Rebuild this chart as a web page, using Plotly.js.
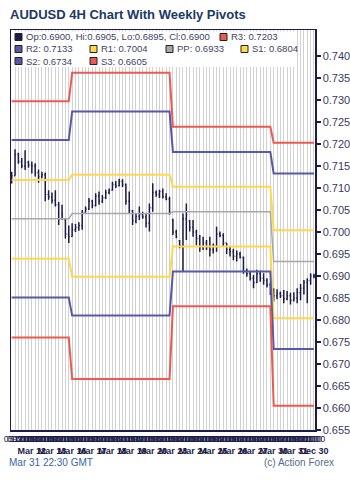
<!DOCTYPE html>
<html><head><meta charset="utf-8">
<script src="https://cdn.plot.ly/plotly-3.0.1.min.js"></script>
<style>html,body{margin:0;padding:0;background:#fff}#chart{width:350px;height:481px}</style>
</head><body><div id="chart"></div>
<script>
// ---- data ----
const opens  = [.7118,.7128,.7176,.7160,.7150,.7158,.7152,.7150,.7135,.7125,.7130,.7085,.7080,.7072,.7062,.7030,.7028,.6995,
 .6990,.7005,.7010,.7015,.7045,.7052,.7070,.7060,.7082,.7070,.7078,.7090,.7095,.7108,.7105,.7115,.7108,.7070,.7048,.7025,.7035,.7040,.7034,.7020,.7055,.7090,.7085,.7092,.7080,.7075,
 .7028,.7000,.6980,.6968,.7030,.7025,.7010,.7000,.6985,.6965,.6975,.6965,.6960,.6968,.6995,.6992,.6975,.6960,.6955,.6945,.6950,.6942,.6912,.6905,.6895,.6885,.6905,.6895,.6890,.6880,
 .6865,.6855,.6860,.6855,.6848,.6855,.6845,.6850,.6862,.6872,.6885,.6890,.6900];
const highs  = [.7137,.7188,.7180,.7168,.7186,.7162,.7160,.7156,.7142,.7137,.7135,.7095,.7090,.7095,.7068,.7062,.7030,.7015,
 .7020,.7018,.7022,.7050,.7058,.7077,.7073,.7088,.7092,.7084,.7096,.7099,.7114,.7116,.7121,.7120,.7110,.7092,.7050,.7042,.7058,.7046,.7042,.7065,.7111,.7094,.7096,.7099,.7088,.7080,
 .7030,.7005,.6982,.7042,.7065,.7027,.7027,.7005,.6993,.6989,.6982,.6989,.6974,.7012,.7001,.6997,.6975,.6968,.6962,.6958,.6955,.6944,.6917,.6912,.6902,.6914,.6912,.6906,.6895,.6885,
 .6872,.6870,.6865,.6868,.6866,.6862,.6863,.6872,.6882,.6891,.6895,.6906,.6905];
const lows   = [.7110,.7128,.7155,.7145,.7141,.7146,.7133,.7126,.7112,.7122,.7070,.7073,.7065,.7058,.7016,.7028,.6985,.6975,
 .6989,.7000,.7003,.7005,.7044,.7050,.7054,.7058,.7062,.7066,.7075,.7086,.7094,.7100,.7104,.7102,.7062,.7042,.7016,.7020,.7027,.7030,.7010,.7001,.7046,.7080,.7077,.7076,.7072,.7039,
 .6993,.6986,.6963,.6910,.6982,.7001,.6989,.6970,.6955,.6959,.6959,.6944,.6951,.6955,.6988,.6968,.6950,.6944,.6936,.6933,.6940,.6905,.6898,.6890,.6872,.6884,.6887,.6880,.6874,.6857,
 .6842,.6847,.6850,.6838,.6845,.6835,.6842,.6838,.6845,.6858,.6838,.6880,.6895];
const closes = [.7128,.7176,.7160,.7150,.7158,.7152,.7150,.7135,.7125,.7130,.7085,.7080,.7072,.7062,.7030,.7040,.6995,.6990,
 .7005,.7010,.7015,.7045,.7052,.7070,.7060,.7082,.7070,.7078,.7090,.7095,.7108,.7105,.7115,.7108,.7070,.7048,.7025,.7035,.7040,.7034,.7020,.7055,.7090,.7085,.7092,.7080,.7075,.7045,
 .7000,.6990,.6968,.7030,.7040,.7010,.7000,.6985,.6965,.6975,.6965,.6960,.6968,.6995,.6992,.6975,.6960,.6955,.6945,.6950,.6942,.6912,.6905,.6895,.6885,.6905,.6895,.6890,.6880,.6865,
 .6855,.6860,.6855,.6848,.6855,.6845,.6850,.6862,.6872,.6885,.6890,.6900,.6900];
const weekBars = [18, 30, 30, 13];
const pivR3 = [0.7297, 0.7362, 0.7239, 0.7203];
const pivR2 = [0.7209, 0.7274, 0.7182, 0.7133];
const pivR1 = [0.7118, 0.7130, 0.7103, 0.7004];
const pivPP = [0.7030, 0.7042, 0.7046, 0.6933];
const pivS1 = [0.6939, 0.6898, 0.6967, 0.6804];
const pivS2 = [0.6851, 0.6810, 0.6910, 0.6734];
const pivS3 = [0.6760, 0.6666, 0.6831, 0.6605];
const barHours = ["01:00","05:00","09:00","13:00","17:00","21:00"];
const dayLabels = ["Mar 11","Mar 12","Mar 13","Mar 16","Mar 17","Mar 18","Mar 19","Mar 20","Mar 23","Mar 24","Mar 25","Mar 26","Mar 27","Mar 30","Mar 31","Dec 30"];
const yTicks = [0.655,0.660,0.665,0.670,0.675,0.680,0.685,0.690,0.695,0.700,0.705,0.710,0.715,0.720,0.725,0.730,0.735,0.740];
const footLeft = "Mar 31 22:30 GMT";
const footRight = "(c) Action Forex";
const chartTitle = "AUDUSD 4H Chart With Weekly Pivots";

// ---- build ----
const n = opens.length;
const xs = opens.map((_, i) => i);
function expand(w) { const out = []; weekBars.forEach((c, k) => { for (let j = 0; j < c; j++) out.push(w[k]); }); return out; }
const tickText = xs.map(i => barHours[i % 6] + (i % 6 === 0 ? '<br><b>' + dayLabels[i / 6] + '</b>' : ''));

const RED = '#ec5a50', BLUE = '#5858aa', YEL = '#ffd84c', GRAY = '#a8a8a8', NAVY = '#1c1c48';
const piv = [
  ['R3', pivR3, RED, 2], ['R2', pivR2, BLUE, 2], ['R1', pivR1, YEL, 2], ['PP', pivPP, GRAY, 1.5],
  ['S1', pivS1, YEL, 2], ['S2', pivS2, BLUE, 2], ['S3', pivS3, RED, 2]
];
const traces = piv.map(p => ({
  type: 'scatter', mode: 'lines', x: xs, y: expand(p[1]), name: p[0],
  line: { color: p[2], width: p[3] }, hoverinfo: 'skip', showlegend: false
}));
traces.push({
  type: 'ohlc', x: xs, open: opens, high: highs, low: lows, close: closes,
  increasing: { line: { color: NAVY, width: 1.5 } }, decreasing: { line: { color: NAVY, width: 1.5 } },
  tickwidth: 0.3, hoverinfo: 'skip', showlegend: false
});

const L = 11, T = 30, W = 304, H = 400;
const px = v => (v - L) / W, py = v => (T + H - v) / H;
const last = n - 1;
const f4 = v => v.toFixed(4);
const legendItems = [
  [15, 37, NAVY, 'Op:' + f4(opens[last]) + ', Hi:' + f4(highs[last]) + ', Lo:' + f4(lows[last]) + ', Cl:' + f4(closes[last])],
  [220, 37, RED, 'R3: ' + f4(pivR3[3])],
  [15, 49, BLUE, 'R2: ' + f4(pivR2[3])],
  [90, 49, YEL, 'R1: ' + f4(pivR1[3])],
  [166, 49, GRAY, 'PP: ' + f4(pivPP[3])],
  [241, 49, YEL, 'S1: ' + f4(pivS1[3])],
  [15, 61, BLUE, 'S2: ' + f4(pivS2[3])],
  [90, 61, RED, 'S3: ' + f4(pivS3[3])]
];
const shapes = [{ type: 'rect', xref: 'paper', yref: 'paper', x0: px(12), x1: px(297), y0: py(67), y1: py(31.5),
  fillcolor: '#ffffff', line: { width: 0 }, layer: 'above' }];
const annotations = [];
legendItems.forEach(it => {
  shapes.push({ type: 'rect', xref: 'paper', yref: 'paper', xsizemode: 'pixel', ysizemode: 'pixel',
    xanchor: px(it[0]), yanchor: py(it[1]), x0: 0, x1: 7, y0: -3.5, y1: 3.5,
    fillcolor: it[2], line: { color: '#222222', width: 1 }, layer: 'above' });
  annotations.push({ xref: 'paper', yref: 'paper', x: px(it[0] + 9), y: py(it[1]), xanchor: 'left', yanchor: 'middle',
    text: it[3], showarrow: false, font: { family: 'Liberation Sans, Arial, sans-serif', size: 9.5, color: '#3c4464' } });
});
annotations.push({ xref: 'paper', yref: 'paper', x: px(7), y: py(462), xanchor: 'left', yanchor: 'middle',
  text: footLeft, showarrow: false, font: { family: 'Liberation Sans, Arial, sans-serif', size: 10, color: '#3a64a4' } });
annotations.push({ xref: 'paper', yref: 'paper', x: px(336), y: py(462), xanchor: 'right', yanchor: 'middle',
  text: footRight, showarrow: false, font: { family: 'Liberation Sans, Arial, sans-serif', size: 10, color: '#5a6a8a' } });

const layout = {
  width: 350, height: 481,
  margin: { l: L, r: 350 - L - W, t: T, b: 481 - T - H },
  paper_bgcolor: '#ffffff', plot_bgcolor: '#ffffff',
  title: { text: '<b>' + chartTitle + '</b>', x: 10 / 350, xanchor: 'left', xref: 'container',
    y: 1 - 14 / 481, yanchor: 'middle', yref: 'container',
    font: { family: 'Liberation Sans, Arial, sans-serif', size: 13, color: '#203864' } },
  showlegend: false,
  xaxis: {
    range: [-0.2, 90.3], tickmode: 'array', tickvals: xs, ticktext: tickText, tickangle: 0,
    ticks: '', showgrid: true, gridcolor: '#d2d2d2', gridwidth: 1, zeroline: false,
    showline: true, mirror: true, linecolor: NAVY, linewidth: 1.5,
    tickfont: { family: 'Liberation Sans, Arial, sans-serif', size: 9, color: NAVY },
    rangeslider: { visible: false }, fixedrange: true
  },
  yaxis: {
    side: 'right', range: [0.655, 0.7459], tickmode: 'array', tickvals: yTicks,
    ticktext: yTicks.map(v => v.toFixed(3)), ticks: 'outside', ticklen: 4, tickcolor: NAVY, tickwidth: 1.5,
    showgrid: false, zeroline: false, showline: true, mirror: true, linecolor: NAVY, linewidth: 1.5,
    tickfont: { family: 'Liberation Sans, Arial, sans-serif', size: 11, color: '#3a3a5a' }, fixedrange: true
  },
  shapes: shapes, annotations: annotations
};
Plotly.newPlot('chart', traces, layout, { displayModeBar: false, staticPlot: true });
</script>
</body></html>
